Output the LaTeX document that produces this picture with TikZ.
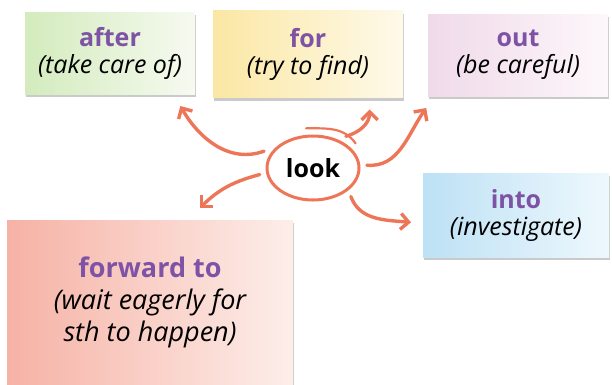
\documentclass[tikz,border=0pt]{standalone}
\usepackage{fontspec}
\setmainfont{Open Sans}
\usepackage{tikz}
\usetikzlibrary{arrows.meta,shapes.geometric,shadows}
\usepackage{xcolor}
\definecolor{lookorange}{HTML}{EE7658}
\definecolor{wordpurple}{HTML}{7E52A4}
\definecolor{afterL}{HTML}{D3EBBD}
\definecolor{afterR}{HTML}{F6FAF0}
\definecolor{forL}{HTML}{FBE7A4}
\definecolor{forR}{HTML}{FEFAEA}
\definecolor{outL}{HTML}{F0DAEA}
\definecolor{outR}{HTML}{FDF7FA}
\definecolor{intoL}{HTML}{BDE1F5}
\definecolor{intoR}{HTML}{EEF8FD}
\definecolor{fwdL}{HTML}{F6B2A5}
\definecolor{fwdR}{HTML}{FDEEEA}
\newcommand{\headword}[1]{{\bfseries\color{wordpurple}#1}}
\newcommand{\wordgloss}[1]{{\itshape #1}}
\tikzset{
  wordbox/.style={rectangle, inner sep=0pt, outer sep=12pt, align=center,
    font=\fontsize{25}{27}\selectfont,
    drop shadow={shadow xshift=1pt, shadow yshift=-3pt, opacity=0.35, fill=black!60}},
  lookring/.style={ellipse, draw=lookorange, line width=3pt, inner sep=0pt, outer sep=8pt,
    minimum width=92pt, minimum height=64pt, font=\fontsize{25}{28}\selectfont\bfseries},
  brush/.style={draw=lookorange, line width=3.4pt, line cap=round,
    -{Straight Barb[length=8pt, width=16pt]}},
}

\begin{document}
\begin{tikzpicture}[x=1pt,y=1pt]
\useasboundingbox (0,0) rectangle (612,-384);
\node[wordbox, left color=afterL, right color=afterR, minimum width=170pt, minimum height=82pt]
  (after) at (110,-53) {\headword{after}\\\wordgloss{(take care of)}};
\node[wordbox, left color=forL, right color=forR, minimum width=190pt, minimum height=87pt]
  (for) at (308,-54) {\headword{for}\\\wordgloss{(try to find)}};
\node[wordbox, left color=outL, right color=outR, minimum width=180pt, minimum height=82pt]
  (out) at (518,-55) {\headword{out}\\\wordgloss{(be careful)}};
\node[wordbox, left color=intoL, right color=intoR, minimum width=186pt, minimum height=84pt]
  (into) at (516,-215) {\headword{into}\\\wordgloss{(investigate)}};
\node[wordbox, left color=fwdL, right color=fwdR, minimum width=286pt, minimum height=164pt,
  font=\fontsize{27}{32}\selectfont]
  (forward) at (150,-302) {\headword{forward to}\\\wordgloss{(wait eagerly for}\\\wordgloss{sth to happen)}};
\node[lookring] (look) at (313,-168) {look};
% loose end of the ring
\draw[draw=lookorange, line width=2.2pt, line cap=round] (look.100) to[out=0,in=125] (look.30);
% arrows out of the ring
\draw[brush] (look.161) to[out=200,in=-60] (after.-37);
\draw[brush] (look.44) to[out=15,in=-90] (for.-42);
\draw[brush] (look.3) to[out=-5,in=235] (out.-150);
\draw[brush] (look.187) to[out=195,in=45] (forward.62);
\draw[brush] (look.-37) to[out=-70,in=175] (into.184);
\end{tikzpicture}
\end{document}
